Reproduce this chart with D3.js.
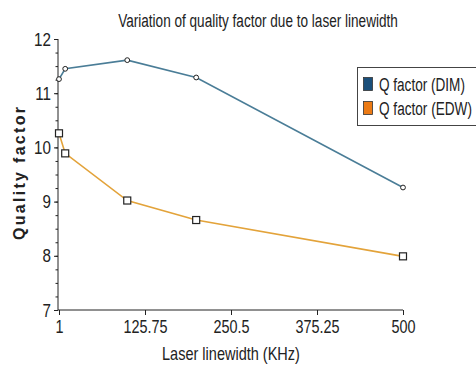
<!DOCTYPE html>
<html>
<head>
<meta charset="utf-8">
<script src="https://cdn.jsdelivr.net/npm/d3@7"></script>
<style>
  body { margin: 0; background: #fff; }
  svg { display: block; }
  text { font-family: "Liberation Sans Narrow", "Arial Narrow", "Liberation Sans", sans-serif; fill: #222; }
</style>
</head>
<body>
<svg id="chart" width="476" height="365"></svg>
<script>
// Laser linewidth (KHz)
const linewidths = [1, 10, 100, 200, 500];
// Quality factor per modulation scheme
const qDIM = [11.26, 11.45, 11.61, 11.29, 9.26];
const qEDW = [10.26, 9.89, 9.02, 8.66, 7.99];
const xTicks = [1, 125.75, 250.5, 375.25, 500];
const yTicks = [7, 8, 9, 10, 11, 12];
const seriesNames = ["Q factor (DIM)", "Q factor (EDW)"];

const svg = d3.select("#chart");
const plotL = 58, plotR = 403, plotT = 39, plotB = 310;

const x = d3.scaleLinear().domain([1, 500]).range([plotL + 1, plotR]);
const y = d3.scaleLinear().domain([7, 12]).range([plotB, plotT]);

// Narrow a text horizontally around its own anchor x so it reads like a condensed face
function squeeze(sel, factor) {
  sel.each(function () {
    const t = d3.select(this);
    const ax = +(t.attr("x") || 0);
    t.attr("transform", `translate(${ax * (1 - factor)},0) scale(${factor},1)`);
  });
}
// Squeeze a text to a given width
function squeezeTo(sel, width) {
  sel.each(function () {
    squeeze(d3.select(this), width / this.getComputedTextLength());
  });
}

// Title
svg.append("text")
  .attr("x", 258).attr("y", 27)
  .attr("text-anchor", "middle")
  .style("font-size", "19px")
  .text("Variation of quality factor due to laser linewidth")
  .call(squeezeTo, 280);

// Y axis with minor ticks every 0.25
const yMinor = svg.append("g").attr("transform", `translate(${plotL},0)`)
  .call(d3.axisLeft(y).tickValues(d3.range(7, 12.001, 0.25)).tickSize(2.5).tickFormat(""));
yMinor.select(".domain").remove();
const yMajor = svg.append("g").attr("transform", `translate(${plotL},0)`)
  .call(d3.axisLeft(y).tickValues(yTicks).tickSize(4).tickPadding(3).tickFormat(d3.format("d")));
yMajor.selectAll("text").style("font-size", "19px").call(squeeze, 0.8);
yMajor.select(".domain").attr("d", `M0,${plotT}V${plotB}`);

// X axis
const xAxisG = svg.append("g").attr("transform", `translate(0,${plotB})`)
  .call(d3.axisBottom(x).tickValues(xTicks).tickSize(5).tickPadding(5)
    .tickFormat(d => d3.format("~f")(d)));
xAxisG.selectAll("text").style("font-size", "18px").call(squeeze, 0.8);
xAxisG.select(".domain").attr("d", `M${plotL},0H${plotR}`);
svg.selectAll("g path, g line").attr("stroke", "#222");

// Axis titles
svg.append("text")
  .attr("x", 231).attr("y", 360)
  .attr("text-anchor", "middle")
  .style("font-size", "18px")
  .text("Laser linewidth (KHz)")
  .call(squeezeTo, 138);

svg.append("text")
  .attr("transform", "translate(25,173.5) rotate(-90)")
  .attr("text-anchor", "middle")
  .style("font-family", "'Liberation Sans', Arial, sans-serif")
  .style("font-size", "16px")
  .style("font-weight", "bold")
  .attr("textLength", 133).attr("lengthAdjust", "spacing")
  .text("Quality factor");

// Series lines
const line = d3.line().x((d, i) => x(linewidths[i])).y(d => y(d));
svg.append("path").datum(qDIM).attr("d", line)
  .attr("fill", "none").attr("stroke", "#4a7d97").attr("stroke-width", 1.6);
svg.append("path").datum(qEDW).attr("d", line)
  .attr("fill", "none").attr("stroke", "#e3a33a").attr("stroke-width", 1.6);

// Markers
svg.selectAll(".m-dim").data(qDIM).enter().append("circle")
  .attr("cx", (d, i) => x(linewidths[i])).attr("cy", d => y(d)).attr("r", 2.4)
  .attr("fill", "#fff").attr("stroke", "#222").attr("stroke-width", 1);
svg.selectAll(".m-edw").data(qEDW).enter().append("rect")
  .attr("x", (d, i) => x(linewidths[i]) - 3.5).attr("y", d => y(d) - 3.5)
  .attr("width", 7).attr("height", 7)
  .attr("fill", "#fff").attr("stroke", "#222").attr("stroke-width", 1.2);

// Legend
const legend = svg.append("g");
legend.append("rect").attr("x", 357.5).attr("y", 67.5).attr("width", 130).attr("height", 58)
  .attr("fill", "#fff").attr("stroke", "#444").attr("stroke-width", 1);
const swatchColors = ["#1a4f7a", "#ec7a14"];
const legendWidths = [86, 93];
seriesNames.forEach((name, i) => {
  legend.append("rect").attr("x", 363.5).attr("y", 77.5 + i * 24).attr("width", 9).attr("height", 13)
    .attr("fill", swatchColors[i]).attr("stroke", "#333").attr("stroke-width", 0.8);
  legend.append("text").attr("x", 379).attr("y", 91 + i * 24)
    .style("font-size", "19px")
    .text(name)
    .call(squeezeTo, legendWidths[i]);
});
</script>
</body>
</html>
